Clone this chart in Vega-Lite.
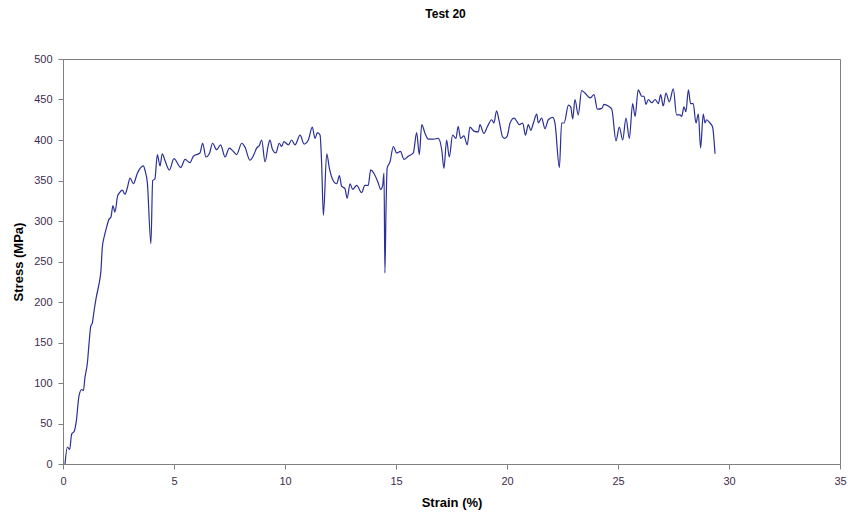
{
  "$schema": "https://vega.github.io/schema/vega-lite/v6.json",
  "width": 777,
  "height": 405,
  "autosize": {"type": "none"},
  "padding": {"left": 63, "top": 59, "right": 8, "bottom": 49},
  "background": "white",
  "title": {"text": "Test 20", "font": "Liberation Sans", "fontSize": 12, "fontWeight": "bold", "color": "#000000", "offset": 32, "dx": -6, "anchor": "middle"},
  "config": {
    "view": {"stroke": "#808080", "strokeWidth": 1},
    "axis": {"grid": false, "domainColor": "#808080", "tickColor": "#808080", "labelFont": "Liberation Sans", "labelFontSize": 11, "labelColor": "#3d2c4e", "titleFont": "Liberation Sans", "titleFontSize": 13, "titleFontWeight": "bold", "titleColor": "#000000", "tickSize": 5}
  },
  "data": {"values": [
    {"strain": 0.09, "stress": 0}, {"strain": 0.2, "stress": 21}, {"strain": 0.3, "stress": 18}, {"strain": 0.39, "stress": 37}, {"strain": 0.5, "stress": 40}, {"strain": 0.6, "stress": 53}, {"strain": 0.72, "stress": 84}, {"strain": 0.84, "stress": 92}, {"strain": 0.92, "stress": 91}, {"strain": 0.99, "stress": 107}, {"strain": 1.1, "stress": 125}, {"strain": 1.17, "stress": 148}, {"strain": 1.25, "stress": 170}, {"strain": 1.32, "stress": 174}, {"strain": 1.4, "stress": 189}, {"strain": 1.5, "stress": 206}, {"strain": 1.62, "stress": 222}, {"strain": 1.71, "stress": 239}, {"strain": 1.77, "stress": 267}, {"strain": 1.86, "stress": 281}, {"strain": 1.95, "stress": 291}, {"strain": 2.07, "stress": 302}, {"strain": 2.16, "stress": 305}, {"strain": 2.25, "stress": 319}, {"strain": 2.34, "stress": 311}, {"strain": 2.46, "stress": 331}, {"strain": 2.55, "stress": 335}, {"strain": 2.67, "stress": 338}, {"strain": 2.79, "stress": 333}, {"strain": 2.9, "stress": 341}, {"strain": 3.02, "stress": 353}, {"strain": 3.17, "stress": 346}, {"strain": 3.35, "stress": 359}, {"strain": 3.62, "stress": 368}, {"strain": 3.69, "stress": 363}, {"strain": 3.8, "stress": 347}, {"strain": 3.96, "stress": 272}, {"strain": 4.04, "stress": 350}, {"strain": 4.14, "stress": 352}, {"strain": 4.25, "stress": 382}, {"strain": 4.37, "stress": 368}, {"strain": 4.47, "stress": 383}, {"strain": 4.59, "stress": 375}, {"strain": 4.79, "stress": 363}, {"strain": 5.0, "stress": 377}, {"strain": 5.3, "stress": 366}, {"strain": 5.5, "stress": 376}, {"strain": 5.72, "stress": 372}, {"strain": 5.87, "stress": 380}, {"strain": 6.17, "stress": 384}, {"strain": 6.29, "stress": 396}, {"strain": 6.44, "stress": 379}, {"strain": 6.59, "stress": 383}, {"strain": 6.74, "stress": 396}, {"strain": 6.92, "stress": 388}, {"strain": 7.1, "stress": 394}, {"strain": 7.3, "stress": 379}, {"strain": 7.49, "stress": 390}, {"strain": 7.67, "stress": 386}, {"strain": 7.82, "stress": 382}, {"strain": 8.05, "stress": 396}, {"strain": 8.2, "stress": 391}, {"strain": 8.42, "stress": 375}, {"strain": 8.6, "stress": 382}, {"strain": 8.72, "stress": 390}, {"strain": 8.84, "stress": 393}, {"strain": 8.95, "stress": 400}, {"strain": 9.1, "stress": 373}, {"strain": 9.25, "stress": 394}, {"strain": 9.32, "stress": 400}, {"strain": 9.44, "stress": 388}, {"strain": 9.59, "stress": 384}, {"strain": 9.74, "stress": 396}, {"strain": 9.85, "stress": 392}, {"strain": 9.95, "stress": 398}, {"strain": 10.15, "stress": 394}, {"strain": 10.3, "stress": 400}, {"strain": 10.45, "stress": 394}, {"strain": 10.68, "stress": 406}, {"strain": 10.86, "stress": 395}, {"strain": 11.05, "stress": 400}, {"strain": 11.23, "stress": 416}, {"strain": 11.35, "stress": 402}, {"strain": 11.46, "stress": 409}, {"strain": 11.58, "stress": 406}, {"strain": 11.65, "stress": 371}, {"strain": 11.73, "stress": 307}, {"strain": 11.88, "stress": 383}, {"strain": 12.0, "stress": 365}, {"strain": 12.15, "stress": 351}, {"strain": 12.33, "stress": 346}, {"strain": 12.45, "stress": 356}, {"strain": 12.55, "stress": 343}, {"strain": 12.7, "stress": 340}, {"strain": 12.8, "stress": 328}, {"strain": 12.93, "stress": 346}, {"strain": 13.05, "stress": 339}, {"strain": 13.23, "stress": 344}, {"strain": 13.45, "stress": 335}, {"strain": 13.6, "stress": 344}, {"strain": 13.75, "stress": 344}, {"strain": 13.86, "stress": 363}, {"strain": 14.0, "stress": 359}, {"strain": 14.2, "stress": 347}, {"strain": 14.31, "stress": 339}, {"strain": 14.4, "stress": 344}, {"strain": 14.46, "stress": 359}, {"strain": 14.5, "stress": 236}, {"strain": 14.55, "stress": 314}, {"strain": 14.6, "stress": 365}, {"strain": 14.73, "stress": 373}, {"strain": 14.88, "stress": 392}, {"strain": 15.03, "stress": 384}, {"strain": 15.2, "stress": 386}, {"strain": 15.36, "stress": 376}, {"strain": 15.55, "stress": 380}, {"strain": 15.78, "stress": 384}, {"strain": 15.93, "stress": 409}, {"strain": 16.05, "stress": 382}, {"strain": 16.16, "stress": 419}, {"strain": 16.31, "stress": 408}, {"strain": 16.46, "stress": 401}, {"strain": 16.68, "stress": 401}, {"strain": 16.9, "stress": 402}, {"strain": 17.06, "stress": 388}, {"strain": 17.16, "stress": 365}, {"strain": 17.28, "stress": 400}, {"strain": 17.4, "stress": 379}, {"strain": 17.55, "stress": 406}, {"strain": 17.7, "stress": 402}, {"strain": 17.8, "stress": 417}, {"strain": 17.91, "stress": 402}, {"strain": 18.06, "stress": 405}, {"strain": 18.21, "stress": 394}, {"strain": 18.33, "stress": 416}, {"strain": 18.51, "stress": 411}, {"strain": 18.71, "stress": 410}, {"strain": 18.78, "stress": 419}, {"strain": 18.96, "stress": 408}, {"strain": 19.11, "stress": 416}, {"strain": 19.31, "stress": 425}, {"strain": 19.41, "stress": 421}, {"strain": 19.53, "stress": 436}, {"strain": 19.65, "stress": 423}, {"strain": 19.8, "stress": 404}, {"strain": 19.9, "stress": 402}, {"strain": 20.01, "stress": 405}, {"strain": 20.14, "stress": 421}, {"strain": 20.32, "stress": 427}, {"strain": 20.44, "stress": 423}, {"strain": 20.56, "stress": 419}, {"strain": 20.71, "stress": 421}, {"strain": 20.83, "stress": 406}, {"strain": 20.96, "stress": 419}, {"strain": 21.07, "stress": 412}, {"strain": 21.19, "stress": 421}, {"strain": 21.34, "stress": 432}, {"strain": 21.41, "stress": 421}, {"strain": 21.56, "stress": 427}, {"strain": 21.71, "stress": 414}, {"strain": 21.86, "stress": 425}, {"strain": 22.06, "stress": 428}, {"strain": 22.16, "stress": 421}, {"strain": 22.36, "stress": 366}, {"strain": 22.46, "stress": 421}, {"strain": 22.57, "stress": 421}, {"strain": 22.77, "stress": 443}, {"strain": 22.87, "stress": 441}, {"strain": 22.96, "stress": 426}, {"strain": 23.06, "stress": 450}, {"strain": 23.21, "stress": 431}, {"strain": 23.36, "stress": 461}, {"strain": 23.51, "stress": 458}, {"strain": 23.74, "stress": 452}, {"strain": 23.92, "stress": 456}, {"strain": 24.07, "stress": 438}, {"strain": 24.27, "stress": 439}, {"strain": 24.37, "stress": 444}, {"strain": 24.56, "stress": 442}, {"strain": 24.72, "stress": 438}, {"strain": 24.91, "stress": 399}, {"strain": 25.06, "stress": 416}, {"strain": 25.21, "stress": 400}, {"strain": 25.36, "stress": 427}, {"strain": 25.51, "stress": 402}, {"strain": 25.66, "stress": 445}, {"strain": 25.77, "stress": 429}, {"strain": 25.91, "stress": 462}, {"strain": 26.07, "stress": 454}, {"strain": 26.17, "stress": 454}, {"strain": 26.26, "stress": 444}, {"strain": 26.37, "stress": 450}, {"strain": 26.52, "stress": 446}, {"strain": 26.67, "stress": 450}, {"strain": 26.82, "stress": 445}, {"strain": 26.92, "stress": 456}, {"strain": 27.04, "stress": 442}, {"strain": 27.16, "stress": 458}, {"strain": 27.31, "stress": 447}, {"strain": 27.49, "stress": 463}, {"strain": 27.64, "stress": 431}, {"strain": 27.79, "stress": 431}, {"strain": 27.87, "stress": 429}, {"strain": 27.97, "stress": 441}, {"strain": 28.06, "stress": 435}, {"strain": 28.17, "stress": 462}, {"strain": 28.27, "stress": 445}, {"strain": 28.39, "stress": 445}, {"strain": 28.51, "stress": 421}, {"strain": 28.62, "stress": 432}, {"strain": 28.72, "stress": 390}, {"strain": 28.84, "stress": 432}, {"strain": 28.92, "stress": 421}, {"strain": 28.99, "stress": 425}, {"strain": 29.14, "stress": 421}, {"strain": 29.26, "stress": 416}, {"strain": 29.37, "stress": 383}
  ]},
  "mark": {"type": "line", "color": "#2b2f96", "strokeWidth": 1.2, "interpolate": "monotone"},
  "encoding": {
    "x": {"field": "strain", "type": "quantitative", "scale": {"domain": [0, 35], "nice": false},
      "axis": {"title": "Strain (%)", "values": [0, 5, 10, 15, 20, 25, 30, 35], "labelPadding": 6, "titleY": 38, "titleBaseline": "middle", "labelFlush": false}},
    "y": {"field": "stress", "type": "quantitative", "scale": {"domain": [0, 500], "nice": false},
      "axis": {"title": "Stress (MPa)", "values": [0, 50, 100, 150, 200, 250, 300, 350, 400, 450, 500], "labelPadding": 6, "titleX": -45, "titleY": 202.5, "titleBaseline": "middle", "titleAngle": -90, "titleAlign": "center", "labelFlush": false}}
  }
}
